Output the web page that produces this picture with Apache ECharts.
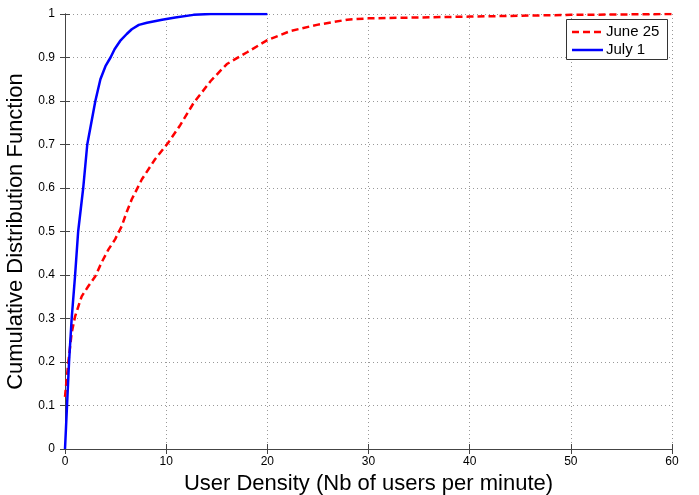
<!DOCTYPE html>
<html>
<head>
<meta charset="utf-8">
<script src="https://cdn.jsdelivr.net/npm/echarts@6/dist/echarts.min.js"></script>
<style>html,body{margin:0;padding:0;background:#fff}#c{width:699px;height:495px}</style>
</head>
<body>
<div id="c"></div>
<script>
// July 1 (blue, solid)
const julyX = [0, 0.1, 0.2, 0.4, 0.66, 1.0, 1.3, 1.55, 1.8, 2.2, 3.0, 3.5, 4.0, 4.5, 4.9, 5.45, 6.1, 6.6, 7.3, 8.1, 9.6, 10.9, 12.7, 14.4, 20];
const julyY = [0, 0.05, 0.1, 0.2, 0.3, 0.4, 0.5, 0.55, 0.6, 0.7, 0.8, 0.85, 0.88, 0.9, 0.919, 0.938, 0.954, 0.965, 0.975, 0.98, 0.987, 0.992, 0.998, 1.0, 1.0];
// June 25 (red, dashed)
const juneX = [0, 0.33, 0.66, 1.0, 1.65, 2.3, 3.0, 3.6, 4.3, 4.95, 5.6, 6.1, 6.6, 7.6, 8.9, 10.2, 11.4, 12.7, 14.4, 16.0, 18.0, 20.0, 22.3, 24.9, 27.9, 30, 40, 50, 60];
const juneY = [0.12, 0.2, 0.267, 0.305, 0.351, 0.374, 0.397, 0.428, 0.459, 0.482, 0.512, 0.545, 0.574, 0.62, 0.666, 0.704, 0.745, 0.795, 0.846, 0.885, 0.912, 0.94, 0.961, 0.975, 0.987, 0.99, 0.994, 0.998, 1.0];
const seriesNames = ['June 25', 'July 1'];
const xTitle = 'User Density (Nb of users per minute)';
const yTitle = 'Cumulative Distribution Function';

const zip = (a, b) => a.map((v, i) => [v, b[i]]);
const FONT = '"Liberation Sans", Arial, sans-serif';
const chart = echarts.init(document.getElementById('c'));
const gridLine = { show: true, lineStyle: { color: '#999', type: [1, 3], width: 1 } };
const RED = '#ff0000', BLUE = '#0000ff';
chart.setOption({
  animation: false,
  backgroundColor: '#fff',
  grid: { left: 65, right: 27, top: 14, bottom: 46, containLabel: false, outerBoundsMode: 'none' },
  legend: { show: false, data: seriesNames },
  graphic: [
    { type: 'rect', left: 566, top: 19, z: 100,
      shape: { width: 101, height: 40 },
      style: { fill: '#fff', stroke: '#333', lineWidth: 1 } },
    { type: 'line', z: 101, shape: { x1: 572, y1: 32, x2: 603, y2: 32 },
      style: { stroke: RED, lineWidth: 2.5, lineDash: [7, 4] } },
    { type: 'line', z: 101, shape: { x1: 572, y1: 50, x2: 603, y2: 50 },
      style: { stroke: BLUE, lineWidth: 2.5 } },
    { type: 'text', z: 101, left: 606, top: 24,
      style: { text: seriesNames[0], font: '15px ' + FONT, fill: '#000' } },
    { type: 'text', z: 101, left: 606, top: 42,
      style: { text: seriesNames[1], font: '15px ' + FONT, fill: '#000' } }
  ],
  xAxis: [{
    type: 'value', min: 0, max: 60, interval: 10,
    name: xTitle, nameLocation: 'middle', nameGap: 19,
    nameTextStyle: { fontFamily: FONT, fontSize: 22, color: '#000', verticalAlign: 'top' },
    axisLine: { show: true, lineStyle: { color: '#444', width: 1 } },
    axisTick: { show: true, inside: true, length: 5, lineStyle: { color: '#444' } },
    axisLabel: { fontFamily: FONT, fontSize: 12, color: '#000', margin: 7 },
    splitLine: gridLine
  }, {
    type: 'value', min: 0, max: 60, interval: 10, position: 'top',
    axisLine: { show: true, lineStyle: { color: '#444', width: 1 } },
    axisTick: { show: true, inside: true, length: 5, lineStyle: { color: '#444' } },
    axisLabel: { show: false }, splitLine: { show: false }
  }],
  yAxis: [{
    type: 'value', min: 0, max: 1, interval: 0.1,
    name: yTitle, nameLocation: 'middle', nameGap: 27,
    nameTextStyle: { fontFamily: FONT, fontSize: 22, color: '#000' },
    axisLine: { show: true, lineStyle: { color: '#444', width: 1 } },
    axisTick: { show: true, inside: true, length: 5, lineStyle: { color: '#444' } },
    axisLabel: { fontFamily: FONT, fontSize: 12, color: '#000', margin: 10,
      formatter: v => String(Math.round(v * 10) / 10) },
    splitLine: gridLine
  }, {
    type: 'value', min: 0, max: 1, interval: 0.1, position: 'right',
    axisLine: { show: true, lineStyle: { color: '#444', width: 1 } },
    axisTick: { show: true, inside: true, length: 5, lineStyle: { color: '#444' } },
    axisLabel: { show: false }, splitLine: { show: false }
  }],
  series: [{
    name: seriesNames[0], type: 'line', showSymbol: false, symbol: 'none',
    data: zip(juneX, juneY), z: 3,
    lineStyle: { color: RED, width: 2.5, type: [7, 4] },
    itemStyle: { color: RED }
  }, {
    name: seriesNames[1], type: 'line', showSymbol: false, symbol: 'none',
    data: zip(julyX, julyY), z: 4,
    lineStyle: { color: BLUE, width: 2.5 },
    itemStyle: { color: BLUE }
  }]
});
</script>
</body>
</html>
